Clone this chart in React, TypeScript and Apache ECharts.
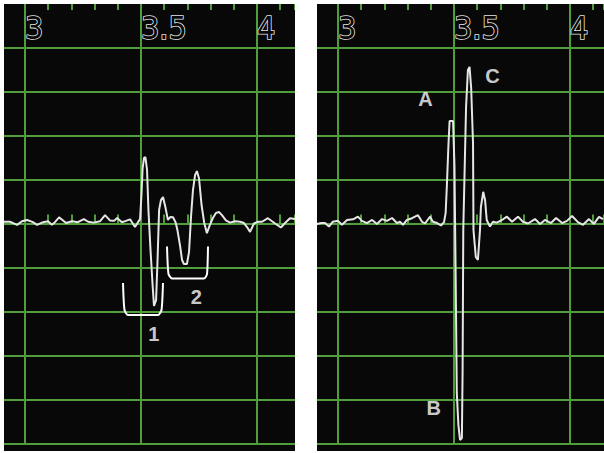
import { useEffect, useRef } from "react";
import * as echarts from "echarts";

const GREEN = "#4f9e3b";
const PANEL = "#080808";
const TRACE = "#e6e6e6";
const CLEAR = "rgba(0,0,0,0)";

// Left trace: time (µs) and amplitude (divisions)
const leftTime = [
  2.909, 2.935, 2.966, 2.987, 3.009, 3.034, 3.052, 3.078, 3.099, 3.116,
  3.129, 3.147, 3.164, 3.177, 3.203, 3.228, 3.254, 3.272, 3.297, 3.323,
  3.345, 3.366, 3.384, 3.397, 3.418, 3.435, 3.453, 3.474, 3.487, 3.496,
  3.502, 3.507, 3.513, 3.519, 3.526, 3.532, 3.541, 3.55, 3.556, 3.565,
  3.571, 3.578, 3.586, 3.595, 3.606, 3.616, 3.627, 3.638, 3.649, 3.657,
  3.668, 3.677, 3.685, 3.698, 3.707, 3.716, 3.724, 3.733, 3.741, 3.75,
  3.761, 3.772, 3.784, 3.797, 3.81, 3.823, 3.836, 3.849, 3.866, 3.884,
  3.905, 3.927, 3.944, 3.957, 3.97, 3.987, 4.004, 4.022, 4.047, 4.078,
  4.103, 4.121, 4.142, 4.164,
];
const leftAmp = [
  0.04, 0.04, -0.03, 0.05, 0.08, 0.03, -0.03, 0.03, 0.05, -0.03,
  0.03, 0.14, 0.07, 0.01, 0.05, 0.03, 0.1, 0.04, 0.02, 0.05,
  0.19, 0.07, 0.06, 0.125, 0.03, 0.06, 0.095, -0.08, 0.03, 0.1,
  0.65, 1.26, 1.49, 1.51, 1.22, 0.31, -0.6, -1.4, -1.875, -1.74,
  -0.875, 0.31, 0.53, 0.6, 0.35, 0.08, 0.15, 0.14, 0.03, -0.15,
  -0.49, -0.83, -0.92, -0.92, -0.65, 0.19, 0.76, 1.1, 1.19, 1.03,
  0.42, 0.03, -0.22, -0.03, 0.125, 0.24, 0.26, 0.19, 0.07, 0.02,
  0.05, 0.04, 0.01, -0.08, -0.19, 0.0, 0.04, 0.04, 0.12, 0.0,
  -0.09, 0.01, 0.12, 0.1,
];

// Right trace: time (µs) and amplitude (divisions)
const rightTime = [
  2.909, 2.927, 2.944, 2.961, 2.978, 3.0, 3.017, 3.039, 3.065, 3.086,
  3.103, 3.125, 3.147, 3.168, 3.19, 3.211, 3.233, 3.254, 3.267, 3.28,
  3.297, 3.319, 3.345, 3.362, 3.375, 3.397, 3.409, 3.427, 3.444, 3.457,
  3.464, 3.469, 3.476, 3.481, 3.496, 3.502, 3.507, 3.512, 3.519, 3.526,
  3.534, 3.537, 3.54, 3.552, 3.56, 3.567, 3.574, 3.582, 3.584, 3.594,
  3.603, 3.612, 3.616, 3.626, 3.634, 3.641, 3.655, 3.668, 3.685, 3.707,
  3.728, 3.75, 3.776, 3.797, 3.819, 3.849, 3.871, 3.892, 3.918, 3.94,
  3.966, 3.987, 4.009, 4.034, 4.056, 4.082, 4.103, 4.125, 4.142,
];
const rightAmp = [
  -0.01, 0.01, 0.01, -0.07, 0.04, 0.06, -0.03, 0.08, 0.095, 0.155,
  0.06, 0.01, 0.08, -0.01, 0.1, 0.06, 0.125, 0.01, 0.04, -0.03,
  0.08, 0.12, 0.19, 0.04, 0.0, 0.155, 0.04, 0.01, -0.045, 0.03,
  0.24, 0.83, 1.78, 2.33, 2.33, 1.31, -1.125, -3.85, -4.58, -4.92,
  -4.875, -3.4, -0.15, 2.65, 3.49, 3.56, 3.08, 1.83, -0.15, -0.76,
  -0.83, -0.15, 0.375, 0.72, 0.53, 0.08, -0.07, 0.04, 0.02, 0.08,
  0.155, 0.04, 0.155, 0.04, 0.0, 0.1, -0.01, 0.08, 0.01, 0.125,
  0.01, 0.06, 0.17, 0.03, -0.03, 0.1, -0.01, 0.15, 0.1,
];

// Brackets marking the two echo groups on the left trace
const bracket1Time = [3.4224, 3.4289, 3.444, 3.5733, 3.5884, 3.5948];
const bracket1Amp = [-1.352, -1.966, -2.08, -2.08, -1.966, -1.352];
const bracket2Time = [3.6121, 3.6185, 3.6336, 3.7716, 3.7845, 3.7888];
const bracket2Amp = [-0.523, -1.148, -1.25, -1.25, -1.148, -0.523];

// Point labels
const leftTags = ["1", "2"];
const leftTagTime = [3.555, 3.738];
const leftTagAmp = [-2.52, -1.66];
const rightTags = ["A", "B", "C"];
const rightTagTime = [3.377, 3.4125, 3.666];
const rightTagAmp = [2.83, -4.19, 3.36];

// Time-axis tick labels
const timeTicks = [3, 3.5, 4];
const timeTickText = ["3", "3.5", "4"];

const zip = (a: number[], b: number[]) => a.map((v, i) => [v, b[i]]);

const X_MIN = 2.9;
const Y_MIN = -5;
const Y_MAX = 4.98864;

function bottomAxis(gridIndex: number, max: number) {
  return {
    type: "value",
    gridIndex,
    position: "bottom",
    min: X_MIN,
    max,
    interval: 0.1,
    axisLine: { show: false },
    axisTick: { show: true, inside: true, length: 9, lineStyle: { color: GREEN, width: 2 } },
    axisLabel: { show: false },
    splitLine: {
      show: true,
      lineStyle: { color: [CLEAR, GREEN, CLEAR, CLEAR, CLEAR], width: 2 },
    },
  };
}

function topAxis(gridIndex: number, max: number) {
  return {
    type: "value",
    gridIndex,
    position: "top",
    min: X_MIN,
    max,
    interval: 0.1,
    axisLine: { show: false },
    axisTick: { show: true, inside: true, length: 6, lineStyle: { color: GREEN, width: 2 } },
    splitLine: { show: false },
    axisLabel: {
      show: true,
      inside: true,
      margin: 8,
      align: "left",
      verticalAlign: "top",
      fontSize: 32,
      fontFamily: "'Liberation Sans Narrow', 'DejaVu Sans Condensed', sans-serif",
      color: PANEL,
      textBorderColor: "#e4e4e4",
      textBorderWidth: 1.6,
      formatter: (v: number) => {
        const k = timeTicks.findIndex((t) => Math.abs(t - v) < 1e-6);
        return k >= 0 ? timeTickText[k] : "";
      },
    },
  };
}

function ampAxis(gridIndex: number) {
  const colors = Array.from({ length: 11 }, (_, i) => (i < 10 ? GREEN : CLEAR));
  return {
    type: "value",
    gridIndex,
    min: Y_MIN,
    max: Y_MAX,
    interval: 1,
    axisLine: { show: false },
    axisTick: { show: false },
    axisLabel: { show: false },
    splitLine: { show: true, lineStyle: { color: colors, width: 2 } },
  };
}

function traceSeries(xAxisIndex: number, yAxisIndex: number, data: number[][]) {
  return {
    type: "line",
    xAxisIndex,
    yAxisIndex,
    data,
    showSymbol: false,
    symbol: "none",
    z: 5,
    lineStyle: { color: TRACE, width: 2 },
  };
}

function bracketSeries(data: number[][]) {
  return {
    type: "line",
    xAxisIndex: 0,
    yAxisIndex: 0,
    data,
    symbol: "none",
    smooth: 0.2,
    z: 6,
    lineStyle: { color: "#ffffff", width: 2 },
  };
}

function tagSeries(xAxisIndex: number, yAxisIndex: number, names: string[], t: number[], a: number[]) {
  return {
    type: "scatter",
    xAxisIndex,
    yAxisIndex,
    symbolSize: 1,
    itemStyle: { color: CLEAR },
    z: 7,
    data: names.map((n, i) => ({ name: n, value: [t[i], a[i]] })),
    label: {
      show: true,
      position: "inside",
      formatter: (p: any) => p.name,
      color: "#ffffff",
      textBorderWidth: 0,
      fontSize: 20,
      fontWeight: "bold",
      fontFamily: "'Liberation Sans', Arial, sans-serif",
    },
  };
}

export default function App() {
  const ref = useRef<HTMLDivElement>(null);

  useEffect(() => {
    if (!ref.current) return;
    const chart = echarts.init(ref.current, undefined, { renderer: "svg" });
    const leftMax = X_MIN + 293.2 / 232;
    const rightMax = X_MIN + 289.2 / 232;

    chart.setOption({
      animation: false,
      backgroundColor: "#ffffff",
      grid: [
        { left: 1.8, top: 4, width: 293.2, height: 439.5, outerBoundsMode: "none" },
        { left: 314.8, top: 4, width: 289.2, height: 439.5, outerBoundsMode: "none" },
      ],
      xAxis: [bottomAxis(0, leftMax), topAxis(0, leftMax), bottomAxis(1, rightMax), topAxis(1, rightMax)],
      yAxis: [ampAxis(0), ampAxis(1)],
      graphic: [
        { type: "rect", z: -10, shape: { x: 4, y: 4, width: 291, height: 447 }, style: { fill: PANEL } },
        { type: "rect", z: -10, shape: { x: 317, y: 4, width: 287, height: 447 }, style: { fill: PANEL } },
        { type: "rect", z: 100, shape: { x: 0, y: 0, width: 4, height: 453 }, style: { fill: "#ffffff" } },
        { type: "rect", z: 100, shape: { x: 295, y: 0, width: 22, height: 453 }, style: { fill: "#ffffff" } },
      ],
      series: [
        traceSeries(0, 0, zip(leftTime, leftAmp)),
        bracketSeries(zip(bracket1Time, bracket1Amp)),
        bracketSeries(zip(bracket2Time, bracket2Amp)),
        tagSeries(0, 0, leftTags, leftTagTime, leftTagAmp),
        traceSeries(2, 1, zip(rightTime, rightAmp)),
        tagSeries(2, 1, rightTags, rightTagTime, rightTagAmp),
      ],
    });
    return () => chart.dispose();
  }, []);

  return (
    <div
      ref={ref}
      style={{ position: "absolute", left: 0, top: 0, width: 604, height: 453 }}
    />
  );
}
